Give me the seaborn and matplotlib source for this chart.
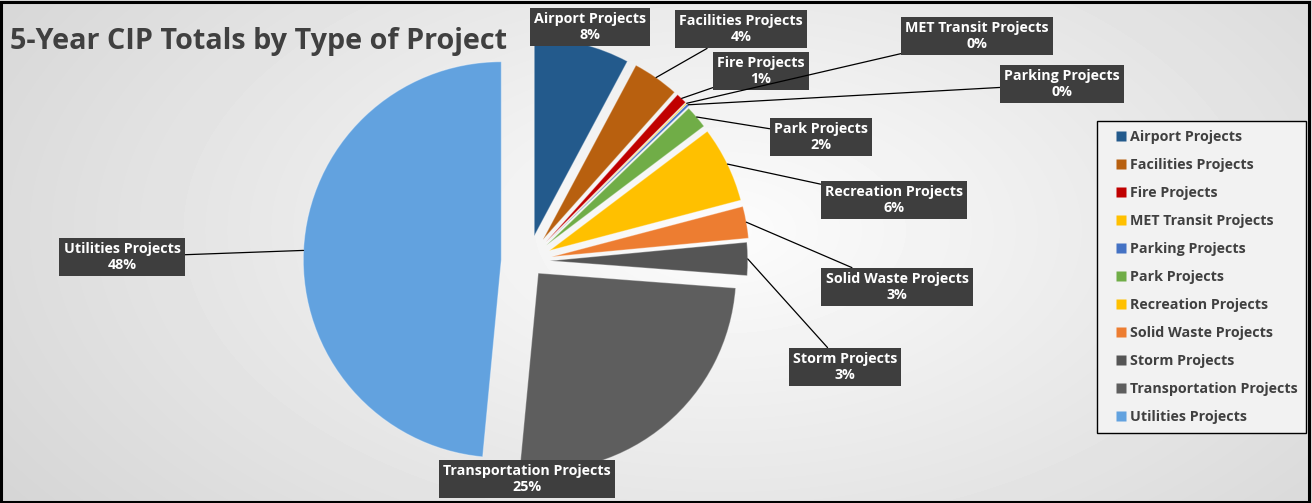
import numpy as np
import matplotlib
matplotlib.use("Agg")
import matplotlib.pyplot as plt
import seaborn as sns
from matplotlib.patches import Rectangle
from matplotlib.lines import Line2D

sns.set_theme(style="white")
plt.rcParams['font.family'] = ['Open Sans', 'DejaVu Sans']

# ---- data ----
categories = ["Airport Projects", "Facilities Projects", "Fire Projects",
              "MET Transit Projects", "Parking Projects", "Park Projects",
              "Recreation Projects", "Solid Waste Projects", "Storm Projects",
              "Transportation Projects", "Utilities Projects"]
shares = [7.8, 3.8, 0.9, 0.1, 0.2, 1.9, 6.2, 2.6, 2.7, 25.3, 48.5]
colors = ["#235A8C", "#B8600F", "#C00000", "#FFC000", "#4472C4", "#70AD47",
          "#FFC000", "#ED7D31", "#555555", "#5E5E5E", "#62A2DF"]
title = "5-Year CIP Totals by Type of Project"

# label box centres (pixels in the 1312x503 canvas) and leader-line flags
label_pos = [(590, 27), (741, 29), (761, 71), (977, 36), (1062, 84),
             (821, 137), (894, 200), (897, 287), (845, 367), (527, 479), (122, 257)]
draw_leader = [False, True, True, True, True, True, True, True, True, False, True]
explode = [0.13, 0.13, 0.13, 0.13, 0.13, 0.12, 0.12, 0.12, 0.11, 0.08, 0.135]

W, H = 1312, 503
fig = plt.figure(figsize=(W / 100, H / 100), dpi=100)

# background gradient
bg = fig.add_axes([0, 0, 1, 1], zorder=-10)
yy, xx = np.mgrid[0:H, 0:W]
d = np.sqrt(((xx - 720) / 900) ** 2 + ((yy - 230) / 500) ** 2)
img = 0.99 - 0.16 * np.clip(d, 0, 1.2)
bg.imshow(img, cmap="gray", vmin=0, vmax=1, aspect="auto", extent=[0, W, H, 0])
bg.set_axis_off()

# pie axes (square in pixels), radius 198 px
cx, cy, R = 528, 261, 198
lim = 1.2
size = 2 * lim * R
ax = fig.add_axes([(cx - size / 2) / W, (H - cy - size / 2) / H, size / W, size / H])
ax.set_facecolor("none")
wedges, _ = ax.pie(shares, colors=colors, startangle=90, counterclock=False,
                   explode=explode, radius=1.0,
                   wedgeprops=dict(edgecolor=(1, 1, 1, 0.35), linewidth=0.8))
ax.set_xlim(-lim, lim)
ax.set_ylim(-lim, lim)
ax.set_aspect("equal")
ax.set_axis_off()

total = sum(shares)
for w, cat, v, pos, lead in zip(wedges, categories, shares, label_pos, draw_leader):
    ang = np.deg2rad((w.theta1 + w.theta2) / 2)
    px = w.center[0] + w.r * np.cos(ang)
    py = w.center[1] + w.r * np.sin(ang)
    txt = f"{cat}\n{round(v / total * 100):.0f}%"
    ax.annotate(txt, xy=(px, py), xycoords="data",
                xytext=(pos[0] / W, 1 - pos[1] / H), textcoords="figure fraction",
                ha="center", va="center", color="white", fontsize=10.3,
                fontweight="bold", linespacing=1.2, annotation_clip=False,
                bbox=dict(boxstyle="square,pad=0.3", fc="#3E3E3E", ec="none"),
                arrowprops=(dict(arrowstyle="-", color="black", lw=0.9,
                                 shrinkA=0, shrinkB=0) if lead else None),
                zorder=5)

fig.text(10 / W, 1 - 41 / H, title, fontsize=20.7, fontweight="bold",
         color="#404040", ha="left", va="center")

handles = [Line2D([], [], linestyle="none", marker="s", markersize=7.2,
                  markerfacecolor=w.get_facecolor(), markeredgecolor="none")
           for w in wedges]
leg = fig.legend(handles, categories, loc="center",
                 bbox_to_anchor=(1201.5 / W, 1 - 277 / H), frameon=True,
                 fancybox=False, edgecolor="black", facecolor="#F2F2F2",
                 framealpha=1, prop=dict(weight="bold", size=10.3),
                 labelcolor="#404040", labelspacing=0.98, handlelength=2.15,
                 handletextpad=-0.42, borderpad=0.6, borderaxespad=0)
for t in leg.get_texts():
    t.set_fontweight("bold")
leg.get_frame().set_linewidth(1.0)

fig.patches.append(Rectangle((0.001, 0.002), 0.997, 0.995, transform=fig.transFigure,
                             fill=False, edgecolor="black", linewidth=2.2, zorder=20))

fig.savefig("out.png", dpi=100)
